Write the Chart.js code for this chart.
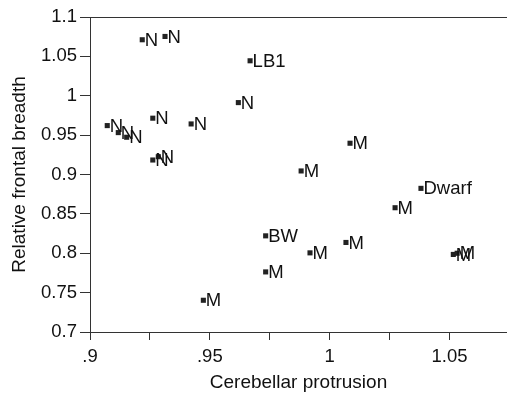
<!DOCTYPE html>
<html>
<head>
<meta charset="utf-8">
<script src="https://cdn.jsdelivr.net/npm/chart.js@4/dist/chart.umd.min.js"></script>
<style>
  html, body { margin: 0; padding: 0; background: #fff; }
  #wrap { width: 507px; height: 395px; position: relative; }
</style>
</head>
<body>
<div id="wrap"><canvas id="c"></canvas></div>
<script>
// Data
const cerebellarProtrusion = [0.9218, 0.9313, 0.9668, 0.9619, 0.9072, 0.9118, 0.9153, 0.9262, 0.9422, 0.9262, 0.9285,
  1.0085, 0.9881, 1.0381, 1.0273, 0.9733, 0.9918, 1.0068, 0.9733, 1.0516, 1.0532, 0.9473];
const relativeFrontalBreadth = [1.0711, 1.0753, 1.0444, 0.9913, 0.9621, 0.9532, 0.9473, 0.9715, 0.9642, 0.9184, 0.9226,
  0.9397, 0.9045, 0.8824, 0.8578, 0.8221, 0.8005, 0.8137, 0.7763, 0.7985, 0.8000, 0.7403];
const pointLabels = ['N', 'N', 'LB1', 'N', 'N', 'N', 'N', 'N', 'N', 'N', 'N',
  'M', 'M', 'Dwarf', 'M', 'BW', 'M', 'M', 'M', 'M', 'M', 'M'];

const xTickValues = [0.9, 0.925, 0.95, 0.975, 1.0, 1.025, 1.05];
const xTickLabels = ['.9', '', '.95', '', '1', '', '1.05'];
const yTickValues = [0.7, 0.75, 0.8, 0.85, 0.9, 0.95, 1.0, 1.05, 1.1];
const yTickLabels = ['0.7', '0.75', '0.8', '0.85', '0.9', '0.95', '1', '1.05', '1.1'];

const FONT = "'Liberation Sans', Arial, sans-serif";
const INK = '#222';

const labelPlugin = {
  id: 'pointLabels',
  afterDatasetsDraw(chart) {
    const ctx = chart.ctx;
    const meta = chart.getDatasetMeta(0);
    ctx.save();
    ctx.font = '18.5px ' + FONT;
    ctx.fillStyle = '#111';
    ctx.textAlign = 'left';
    ctx.textBaseline = 'middle';
    meta.data.forEach((el, i) => {
      ctx.fillText(pointLabels[i], el.x + 2.5, el.y + 1);
    });
    ctx.restore();
  }
};

const frameTop = {
  id: 'frameTop',
  afterDraw(chart) {
    const { ctx, chartArea } = chart;
    ctx.save();
    ctx.strokeStyle = '#333';
    ctx.lineWidth = 1;
    ctx.beginPath();
    ctx.moveTo(chartArea.left, Math.round(chartArea.top) + 0.5);
    ctx.lineTo(chart.width, Math.round(chartArea.top) + 0.5);
    ctx.stroke();
    ctx.restore();
  }
};

new Chart(document.getElementById('c'), {
  type: 'scatter',
  data: {
    datasets: [{
      data: cerebellarProtrusion.map((x, i) => ({ x: x, y: relativeFrontalBreadth[i] })),
      pointStyle: 'rect',
      pointRadius: 3.6,
      pointHoverRadius: 3.6,
      backgroundColor: INK,
      borderColor: INK,
      borderWidth: 0
    }]
  },
  options: {
    responsive: true,
    maintainAspectRatio: false,
    animation: false,
    events: [],
    layout: { autoPadding: false, padding: { top: 17, right: 0, left: 0, bottom: 0 } },
    plugins: { legend: { display: false }, tooltip: { enabled: false } },
    scales: {
      x: {
        type: 'linear',
        min: 0.9,
        max: 1.074,
        afterBuildTicks: (s) => { s.ticks = xTickValues.map(v => ({ value: v })); },
        afterFit: (s) => { s.height = 63; s.paddingRight = 0; },
        ticks: {
          autoSkip: false,
          maxRotation: 0,
          padding: 6,
          color: '#111',
          font: { family: FONT, size: 18.5 },
          callback: (v, i) => xTickLabels[i]
        },
        grid: { drawOnChartArea: false, drawTicks: true, tickLength: 8, tickColor: '#333', color: '#333' },
        border: { display: true, color: '#333', width: 1 },
        title: {
          display: true,
          text: 'Cerebellar protrusion',
          color: '#111',
          font: { family: FONT, size: 19 },
          padding: { top: 0, bottom: 1 }
        }
      },
      y: {
        type: 'linear',
        min: 0.7,
        max: 1.1,
        afterBuildTicks: (s) => { s.ticks = yTickValues.map(v => ({ value: v })); },
        afterFit: (s) => { s.width = 90; },
        ticks: {
          autoSkip: false,
          padding: 3,
          color: '#111',
          font: { family: FONT, size: 18.5 },
          callback: (v, i) => yTickLabels[i]
        },
        grid: { drawOnChartArea: false, drawTicks: true, tickLength: 10, tickColor: '#333', color: '#333' },
        border: { display: true, color: '#333', width: 1 },
        title: {
          display: true,
          text: 'Relative frontal breadth',
          color: '#111',
          font: { family: FONT, size: 19 },
          padding: { top: 8, bottom: 0 }
        }
      }
    }
  },
  plugins: [labelPlugin, frameTop]
});
</script>
</body>
</html>
